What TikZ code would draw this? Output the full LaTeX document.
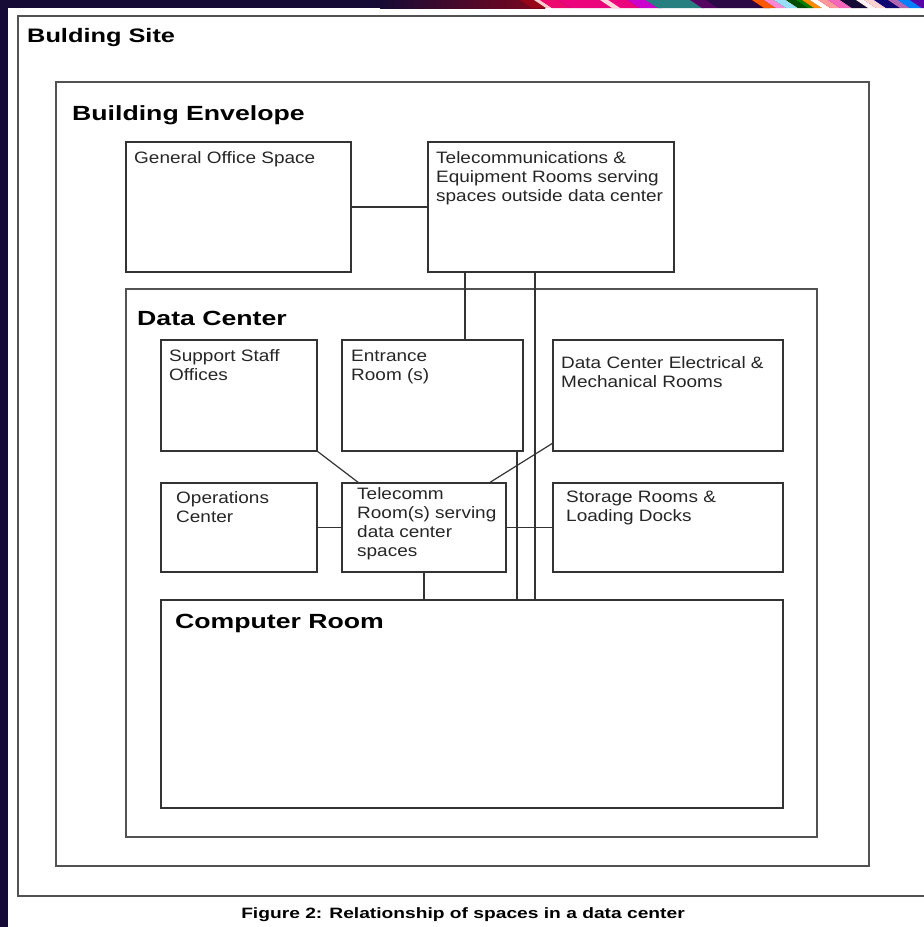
\documentclass[tikz,border=0pt]{standalone}
\usepackage{fontspec}
\setmainfont{Liberation Sans}
\newfontfamily\headfont[FakeStretch=1.3]{Liberation Sans}
\newfontfamily\boxfont[FakeStretch=1.15]{Liberation Sans}
\newfontfamily\capfont[FakeStretch=1.28]{Liberation Sans}
\definecolor{slidebg}{HTML}{160B36}
\definecolor{edge}{HTML}{333333}
\begin{document}
\begin{tikzpicture}[x=1pt,y=-1pt,
  frame/.style={draw=edge!85, line width=1.5pt, inner sep=0pt, outer sep=0pt, anchor=north west},
  room/.style={draw=edge, line width=1.2pt, inner sep=0pt, outer sep=0pt, anchor=north west},
  wire/.style={draw=edge, line width=1.2pt},
  head/.style={anchor=base west, inner sep=0pt, font=\headfont\bfseries\fontsize{20.5}{24}\selectfont},
  lbl/.style={anchor=base west, inner sep=0pt, align=left, text=black!85,
              font=\boxfont\fontsize{16.5}{19}\selectfont},
  figcaption/.style={anchor=base, inner sep=0pt, font=\capfont\bfseries\fontsize{15}{18}\selectfont}]
\useasboundingbox (0,0) rectangle (924,927);
% slide background and the white page
\fill[slidebg] (0,0) rectangle (924,927);
\fill[white] (8,8) rectangle (924,927);
% coloured streaks along the top edge
\begin{scope}
\clip (0,0) rectangle (924,8);
\fill[left color=slidebg, right color=red!45!slidebg] (380,0) rectangle (545,8);
\foreach \x/\w/\c in {
  520/14/red!55!slidebg, 534/6/pink!80!white, 540/18/magenta!70!red,
  558/70/magenta!85!red, 600/8/pink!60!white, 628/22/violet!40!magenta,
  646/46/teal!70!gray, 690/16/violet!60!slidebg, 706/52/slidebg!80!violet,
  752/12/orange!70!red, 764/10/pink!70!magenta, 774/12/cyan!40!white,
  786/10/black!70!green, 796/6/green!50!black, 802/8/orange!90!yellow,
  810/8/white, 818/10/pink!80!red, 828/12/magenta!60!white, 840/16/slidebg,
  856/8/white!80!pink, 864/10/pink!70!white, 874/14/slidebg!70!blue,
  888/10/violet!60!white, 898/12/blue!50!cyan, 910/16/violet!70!blue}
  \fill[\c] (\x,0) -- (\x+\w,0) -- (\x+\w+12,8) -- (\x+12,8) -- cycle;
\end{scope}
% nested site / envelope / data centre frames
\begin{scope}
\clip (8,8) rectangle (924,927);
\node[frame, minimum width=940pt, minimum height=880pt] (site) at (18,16) {};
\end{scope}
\node[frame, minimum width=813pt, minimum height=784pt] (env) at (56,82) {};
\node[frame, minimum width=691pt, minimum height=548pt] (dc) at (126,289) {};
% rooms
\node[room, minimum width=225pt, minimum height=130pt] (gos) at (126,142) {};
\node[room, minimum width=246pt, minimum height=130pt] (tel) at (428,142) {};
\node[room, minimum width=156pt, minimum height=111pt] (sso) at (161,340) {};
\node[room, minimum width=181pt, minimum height=111pt] (ent) at (342,340) {};
\node[room, minimum width=230pt, minimum height=111pt] (mech) at (553,340) {};
\node[room, minimum width=156pt, minimum height=89pt] (ops) at (161,483) {};
\node[room, minimum width=164pt, minimum height=89pt] (tr) at (342,483) {};
\node[room, minimum width=230pt, minimum height=89pt] (sto) at (553,483) {};
\node[room, minimum width=622pt, minimum height=208pt] (comp) at (161,600) {};
% headings
\node[head, font=\headfont\bfseries\fontsize{19.5}{23}\selectfont] (tsite) at (27,42) {Bulding Site};
\node[head] (tenv) at (72,120) {Building Envelope};
\node[head] (tdc) at (137,325) {Data Center};
\node[head] (tcomp) at (175,628) {Computer Room};
% room labels (positioned at the baseline of their last line)
\node[lbl] (lgos) at (134,163) {General Office Space};
\node[lbl] (ltel) at (436,201) {Telecommunications \&\\Equipment Rooms serving\\spaces outside data center};
\node[lbl] (lsso) at (169,380) {Support Staff\\Offices};
\node[lbl] (lent) at (351,380) {Entrance\\Room (s)};
\node[lbl] (lmech) at (561,387) {Data Center Electrical \&\\Mechanical Rooms};
\node[lbl] (lops) at (176,522) {Operations\\Center};
\node[lbl] (ltr) at (357,556) {Telecomm\\Room(s) serving\\data center\\spaces};
\node[lbl] (lsto) at (566,521) {Storage Rooms \&\\Loading Docks};
% caption
\node[figcaption] (fig) at (463,918) {Figure 2: Relationship of spaces in a data center};
% cabling between spaces
\draw[wire] (gos.east) -- (tel.west);
\draw[wire] ([xshift=37pt]tel.south west) -- ([xshift=37pt]tel.south west |- ent.north);
\draw[wire] ([xshift=107pt]tel.south west) -- ([xshift=107pt]tel.south west |- comp.north);
\draw[wire] ([xshift=-6pt]ent.south east) -- ([xshift=-6pt]ent.south east |- comp.north);
\draw[wire] (sso.south east) -- ([xshift=17pt]tr.north west);
\draw[wire] ([yshift=8pt]mech.south west) -- ([xshift=147pt]tr.north west);
\draw[wire] (ops.east) -- (tr.west);
\draw[wire] (tr.east) -- (sto.west);
\draw[wire] ([xshift=82pt]tr.south west) -- ([xshift=82pt]tr.south west |- comp.north);
\end{tikzpicture}
\end{document}
